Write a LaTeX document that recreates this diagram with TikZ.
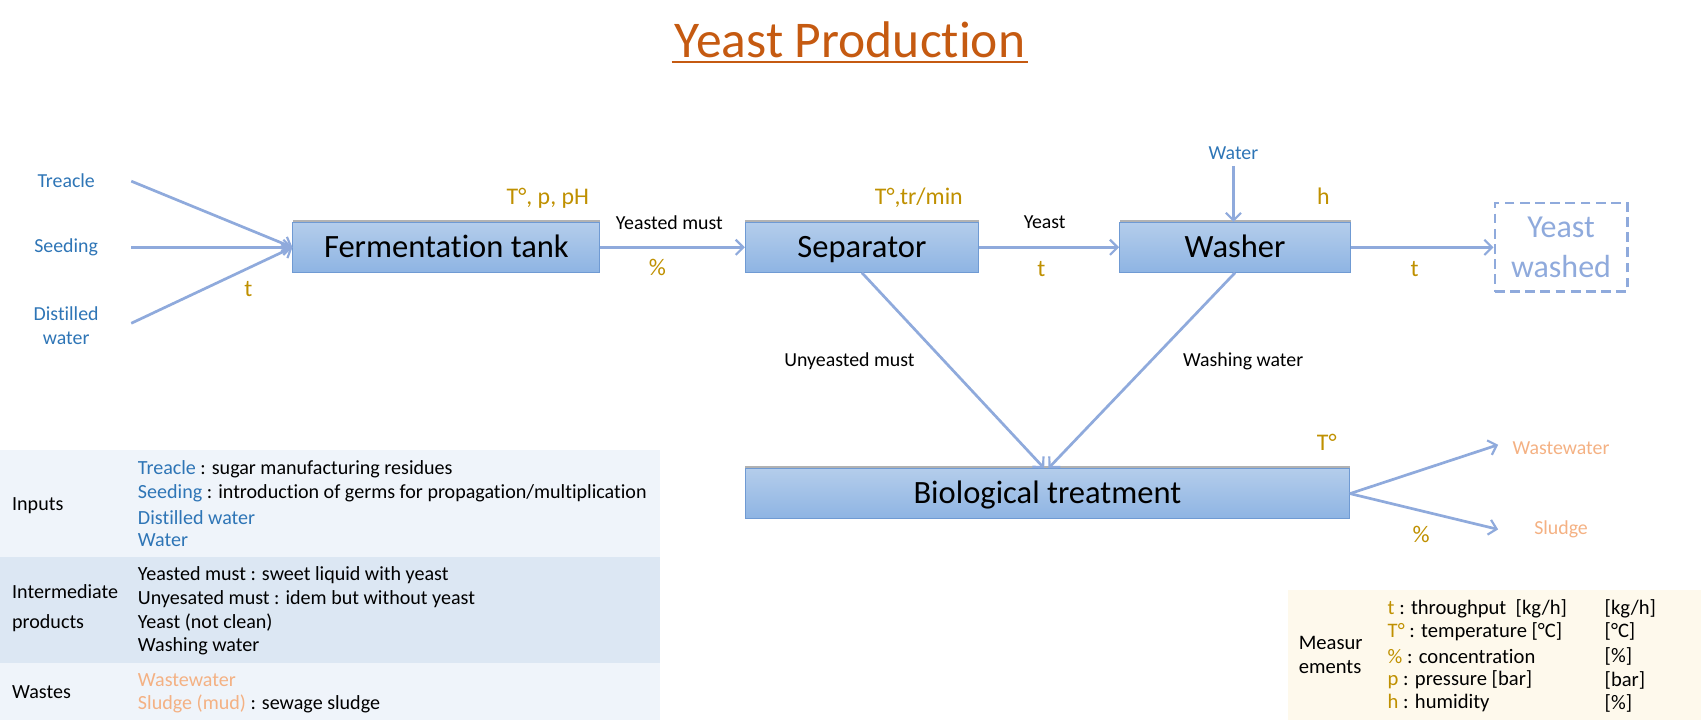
\documentclass[tikz,border=0pt]{standalone}
\usepackage{fontspec}
\setmainfont{Carlito}[Ligatures=NoCommon]
\usetikzlibrary{arrows.meta,shadows}
\definecolor{arr}{HTML}{8FAADC}
\definecolor{inblue}{HTML}{2E75B6}
\definecolor{meas}{HTML}{BF9000}
\definecolor{peach}{HTML}{F4B183}
\definecolor{titlec}{HTML}{C55A11}
\definecolor{boxtop}{HTML}{B4CDEB}
\definecolor{boxbot}{HTML}{8EB4E3}
\definecolor{boxline}{HTML}{6F9AD3}
\definecolor{rowa}{HTML}{EFF4FA}
\definecolor{rowb}{HTML}{DCE7F3}
\definecolor{measbg}{HTML}{FEF9EC}
\tikzset{
  proc/.style={draw=boxline, line width=0.8pt, top color=boxtop, bottom color=boxbot,
    minimum height=46pt, inner sep=0pt, font=\fontsize{30}{33}\selectfont,
    text height=25pt, text depth=6pt,
    drop shadow={shadow xshift=0pt, shadow yshift=2.5pt, opacity=0.3, fill=black}},
  flow/.style={draw=arr, line width=2.5pt, -{Straight Barb[length=7pt,width=14pt,line width=2pt]}},
  lbl/.style={font=\fontsize{18.3}{21}\selectfont, inner sep=0pt},
  inlbl/.style={lbl, text=inblue, align=center},
  mlbl/.style={font=\fontsize{22}{24}\selectfont, text=meas, inner sep=0pt},
  wlbl/.style={font=\fontsize{18.3}{21}\selectfont, text=peach, inner sep=0pt},
  tline/.style={font=\fontsize{18.5}{21}\selectfont, anchor=west, inner sep=0pt},
  mline/.style={font=\fontsize{19}{21}\selectfont, anchor=west, inner sep=0pt},
}
\begin{document}
\begin{tikzpicture}[x=1pt,y=-1pt]
\useasboundingbox (0,0) rectangle (1568,664);
% title
\node[font=\fontsize{47.5}{52}\selectfont, text=titlec, inner sep=0pt] (title) at (783.5,37) {Yeast Production};
\draw[titlec, line width=2.2pt] (619,57) -- (948,57);

% process boxes
\node[proc, minimum width=283pt] (ferm) at (411.5,228) {Fermentation tank};
\node[proc, minimum width=215pt] (sep) at (794.5,228) {Separator};
\node[proc, minimum width=213pt] (wash) at (1138.5,228) {Washer};
\node[proc, minimum width=557pt] (bio) at (965.5,455) {Biological treatment};
\node[draw=arr, dash pattern=on 9pt off 5pt, line width=2.5pt, minimum width=122pt, minimum height=82pt,
  text=arr, align=center, font=\fontsize{29.5}{36}\selectfont, inner sep=0pt] (yw) at (1439,228) {Yeast\\washed};

% inputs
\node[inlbl] (treacle) at (61,167) {Treacle};
\node[inlbl] (seeding) at (61,228) {Seeding};
\node[inlbl, font=\fontsize{18.3}{22}\selectfont] (dist) at (61,300) {Distilled\\water};
\coordinate (s1) at (121,167);
\coordinate (s2) at (121,228);
\coordinate (s3) at (121,298);
\draw[flow] (s1) -- (ferm.west);
\draw[flow] (s2) -- (ferm.west);
\draw[flow] (s3) -- (ferm.west);

\node[inlbl] (water) at (1137,141) {Water};
\draw[flow] ([yshift=-12pt]water.center) -- (water.center |- wash.north);

% main flows
\draw[flow] (ferm.east) -- (sep.west);
\draw[flow] (sep.east) -- (wash.west);
\draw[flow] (wash.east) -- (yw.west);
\draw[flow] (sep.south) -- ([xshift=-3pt]bio.north);
\draw[flow] (wash.south) -- ([xshift=1pt]bio.north);

\node[wlbl] (ww) at (1439,413) {Wastewater};
\node[wlbl] (sl) at (1439,488) {Sludge};
\coordinate (e1) at (1381,410);
\coordinate (e2) at (1381,488);
\draw[flow] (bio.east) -- (e1);
\draw[flow] (bio.east) -- (e2);

% flow labels
\node[lbl] (l1) at (617,205) {Yeasted must};
\node[lbl] (l2) at (963,205) {Yeast};
\node[lbl] (l3) at (783,333) {Unyeasted must};
\node[lbl] (l4) at (1146,333) {Washing water};

% measurement labels
\node[mlbl] (m1) at (229,266) {t};
\node[mlbl] (m2) at (505,183) {T°, p, pH};
\node[mlbl] (m3) at (606,247) {\%};
\node[mlbl] (m4) at (847,182) {T°,tr/min};
\node[mlbl] (m5) at (960,248) {t};
\node[mlbl] (m6) at (1220,181) {h};
\node[mlbl] (m7) at (1304,248) {t};
\node[mlbl] (m8) at (1223,408) {T°};
\node[mlbl] (m9) at (1310,493) {\%};

% legend table
\fill[rowa] (0,415) rectangle (608,513);
\fill[rowb] (0,513) rectangle (608,611);
\fill[rowa] (0,611) rectangle (608,664);
\node[tline] (tin) at (11,466) {Inputs};
\node[tline] (tr1) at (127,433) {\textcolor{inblue}{Treacle} : sugar manufacturing residues};
\node[tline] (tr2) at (127,455) {\textcolor{inblue}{Seeding} : introduction of germs for propagation/multiplication};
\node[tline] (tr3) at (127,477) {\textcolor{inblue}{Distilled water}};
\node[tline] (tr4) at (127,498) {\textcolor{inblue}{Water}};
\node[tline] (tim1) at (11,545) {Intermediate};
\node[tline] (tim2) at (11,574) {products};
\node[tline] (tr5) at (127,530) {Yeasted must : sweet liquid with yeast};
\node[tline] (tr6) at (127,552) {Unyesated must : idem but without yeast};
\node[tline] (tr7) at (127,574) {Yeast (not clean)};
\node[tline] (tr8) at (127,596) {Washing water};
\node[tline] (twa) at (11,638) {Wastes};
\node[tline] (tr9) at (127,627) {\textcolor{peach}{Wastewater}};
\node[tline] (tr10) at (127,649) {\textcolor{peach}{Sludge (mud)} : sewage sludge};

% measurements box
\fill[measbg] (1187,544) rectangle (1568,664);
\node[mline] (me1) at (1197,593) {Measur};
\node[mline] (me2) at (1197,615) {ements};
\node[mline] (mr1) at (1279,561) {\textcolor{meas}{t} : throughput\ \ [kg/h]};
\node[mline] (mr2) at (1279,582) {\textcolor{meas}{T°} : temperature [°C]};
\node[mline] (mr3) at (1279,605) {\textcolor{meas}{\%} : concentration};
\node[mline] (mr4) at (1279,627) {\textcolor{meas}{p} : pressure [bar]};
\node[mline] (mr5) at (1279,648) {\textcolor{meas}{h} : humidity};
\node[mline] (mu1) at (1479,561) {[kg/h]};
\node[mline] (mu2) at (1479,582) {[°C]};
\node[mline] (mu3) at (1479,605) {[\%]};
\node[mline] (mu4) at (1479,627) {[bar]};
\node[mline] (mu5) at (1479,648) {[\%]};
\end{tikzpicture}
\end{document}
